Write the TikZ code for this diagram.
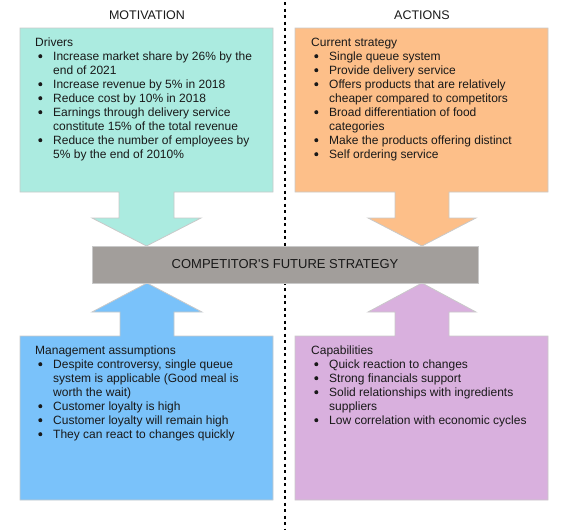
\documentclass[tikz,border=0pt]{standalone}
\usepackage{fontspec}
\setmainfont{Liberation Sans}[Ligatures=TeXOff]
\definecolor{cmint}{HTML}{ABEBE0}
\definecolor{corange}{HTML}{FDBF89}
\definecolor{cblue}{HTML}{7AC2FA}
\definecolor{cpurple}{HTML}{D9B0DE}
\definecolor{cgray}{HTML}{A29E9B}
\definecolor{cedge}{HTML}{C9C9C9}
\newcommand{\bl}{\hspace{3pt}\makebox[4.2pt]{\tikz[baseline=-3.8pt]\fill (0,0) circle (2pt);}}
\begin{document}
\begin{tikzpicture}[x=1pt,y=-1pt]
\tikzset{
  shapebox/.style={draw=cedge, line width=0.8pt},
  listtext/.style={anchor=north west, inner sep=0pt, font=\fontsize{12}{14}\selectfont, text=black!90},
  header/.style={font=\fontsize{12.5}{15}\selectfont, text=black!90, inner sep=0pt},
}
\useasboundingbox (0,0) rectangle (570,530);
% divider
\coordinate (dtop) at (285,2);
\coordinate (dbot) at (285,530);
\draw[line width=2pt, dash pattern=on 3pt off 3.5pt] (dtop) -- (dbot);
% headers
\node[header] (hmot) at (147,15) {MOTIVATION};
\node[header] (hact) at (422,15) {ACTIONS};
% top-left box + arrow
\path[shapebox, fill=cmint] (20,28) -- (273,28) -- (273,192) -- (174,192) -- (174,218) -- (201,218) -- (146.5,246) -- (92,218) -- (119,218) -- (119,192) -- (20,192) -- cycle;
% top-right
\path[shapebox, fill=corange] (295,28) -- (548,28) -- (548,192) -- (449,192) -- (449,218) -- (476,218) -- (422,246) -- (368,218) -- (395,218) -- (395,192) -- (295,192) -- cycle;
% bottom-left
\path[shapebox, fill=cblue] (20,500) -- (273,500) -- (273,336) -- (174,336) -- (174,312) -- (202,312) -- (147,283) -- (92,312) -- (120,312) -- (120,336) -- (20,336) -- cycle;
% bottom-right
\path[shapebox, fill=cpurple] (295,500) -- (548,500) -- (548,336) -- (449,336) -- (449,312) -- (476,312) -- (422,283) -- (368,312) -- (395,312) -- (395,336) -- (295,336) -- cycle;
% central bar
\node[draw=cedge, line width=0.8pt, fill=cgray, minimum width=386pt, minimum height=37pt, inner sep=0pt, font=\fontsize{13}{15}\selectfont, text=black!90] (bar) at (285,264.5) {COMPETITOR'S FUTURE STRATEGY};
% texts
\node[listtext] (drivers) at (35,36) {\begin{tabular}{@{}l@{\hspace{10.8pt}}l@{}}
\multicolumn{2}{@{}l}{Drivers}\\
\bl & Increase market share by 26\% by the\\
 & end of 2021\\
\bl & Increase revenue by 5\% in 2018\\
\bl & Reduce cost by 10\% in 2018\\
\bl & Earnings through delivery service\\
 & constitute 15\% of the total revenue\\
\bl & Reduce the number of employees by\\
 & 5\% by the end of 2010\%
\end{tabular}};
\node[listtext] (strategy) at (311,36) {\begin{tabular}{@{}l@{\hspace{10.8pt}}l@{}}
\multicolumn{2}{@{}l}{Current strategy}\\
\bl & Single queue system\\
\bl & Provide delivery service\\
\bl & Offers products that are relatively\\
 & cheaper compared to competitors\\
\bl & Broad differentiation of food\\
 & categories\\
\bl & Make the products offering distinct\\
\bl & Self ordering service
\end{tabular}};
\node[listtext] (assump) at (35,344) {\begin{tabular}{@{}l@{\hspace{10.8pt}}l@{}}
\multicolumn{2}{@{}l}{Management assumptions}\\
\bl & Despite controversy, single queue\\
 & system is applicable (Good meal is\\
 & worth the wait)\\
\bl & Customer loyalty is high\\
\bl & Customer loyalty will remain high\\
\bl & They can react to changes quickly
\end{tabular}};
\node[listtext] (capab) at (311,344) {\begin{tabular}{@{}l@{\hspace{10.8pt}}l@{}}
\multicolumn{2}{@{}l}{Capabilities}\\
\bl & Quick reaction to changes\\
\bl & Strong financials support\\
\bl & Solid relationships with ingredients\\
 & suppliers\\
\bl & Low correlation with economic cycles
\end{tabular}};
\end{tikzpicture}
\end{document}
